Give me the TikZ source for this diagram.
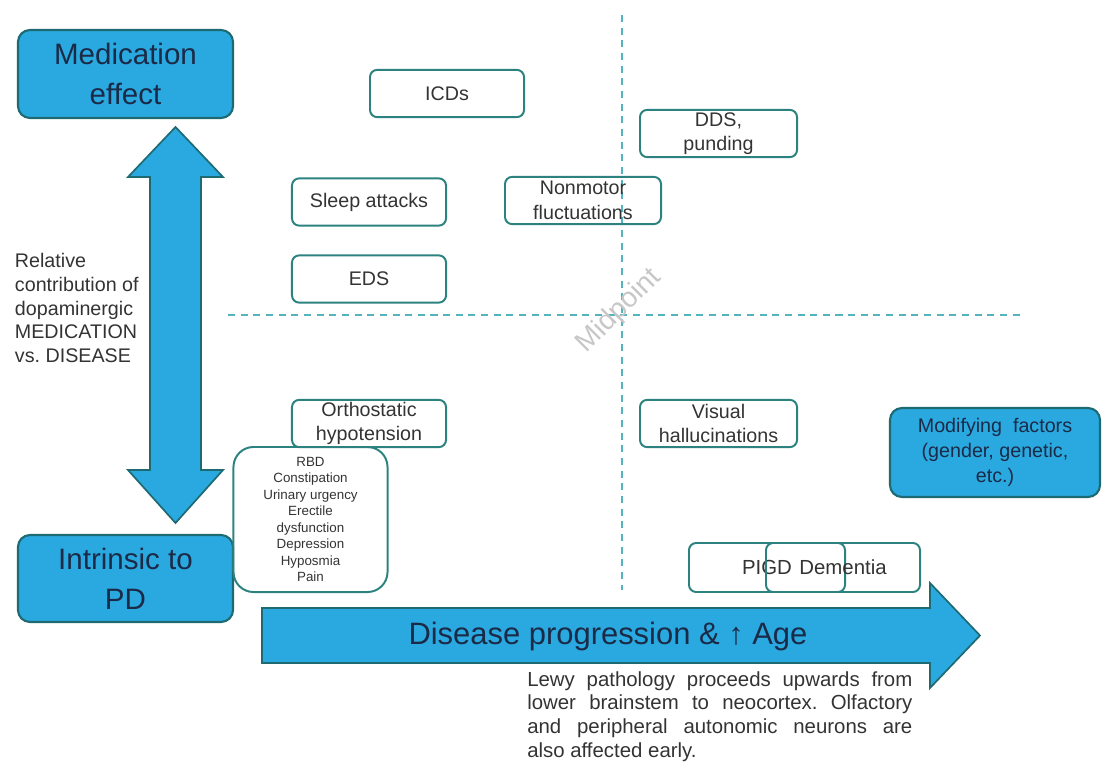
\documentclass[tikz,border=0pt]{standalone}
\usepackage{fontspec}
\setmainfont{Liberation Sans}
\usetikzlibrary{positioning}
\definecolor{pdblue}{HTML}{2AA9E0}
\definecolor{pdedge}{HTML}{1E6A72}
\definecolor{pdteal}{HTML}{2C827F}
\definecolor{pdnavy}{HTML}{1B2A47}
\definecolor{pdgrid}{HTML}{52B5BE}
\definecolor{pdtext}{HTML}{333333}
\frenchspacing
\tikzset{
  bigbox/.style={draw=pdedge, line width=1.5pt, fill=pdblue, rounded corners=0.3cm, text=pdnavy, align=center, inner sep=0pt},
  sympt/.style={draw=pdteal, line width=1.4pt, rounded corners=0.18cm, text=pdtext, align=center,
    minimum width=3.85cm, minimum height=1.18cm, inner sep=0pt, font=\fontsize{14}{17.5}\selectfont},
  blockarrow/.style={draw=pdedge, line width=1.2pt, fill=pdblue, line join=miter},
  midline/.style={draw=pdgrid, line width=0.9pt, dash pattern=on 5pt off 4pt}
}

\begin{document}
\begin{tikzpicture}[x=0.025cm, y=-0.025cm]
\useasboundingbox (0,0) rectangle (1104,763);
\draw[midline] (622,15) -- (622,590);
\draw[midline] (228,315) -- (1020,315);
\node[rotate=45, text=black!22, font=\fontsize{20}{20}\selectfont] (mid) at (619,311) {Midpoint};

\node[bigbox, minimum width=5.375cm, minimum height=2.2cm, font=\fontsize{21}{28.5}\selectfont] (med) at (125.5,74) {Medication\\effect};
\node[bigbox, minimum width=5.375cm, minimum height=2.175cm, font=\fontsize{21}{28.5}\selectfont] (pd) at (125.5,578.5) {Intrinsic to\\PD};
\node[bigbox, minimum width=5.25cm, minimum height=2.225cm, font=\fontsize{14}{17.7}\selectfont] (mod) at (995,452.5) {Modifying~~factors\\(gender, genetic,\\etc.)};

\draw[blockarrow] (175.5,127) -- (223,177) -- (201,177) -- (201,470) -- (223,470)
  -- (175.5,523) -- (128,470) -- (150,470) -- (150,177) -- (128,177) -- cycle;
\draw[blockarrow] (262,608) -- (930,608) -- (930,583) -- (980,635.5) -- (930,688)
  -- (930,663) -- (262,663) -- cycle;
\node[text=pdnavy, font=\fontsize{22}{22}\selectfont] (prog) at (608,636) {Disease progression \& ↑ Age};

\node[anchor=north west, align=left, text=pdtext, font=\fontsize{14}{17}\selectfont] (rel) at (10,248)
  {Relative\\contribution of\\dopaminergic\\MEDICATION\\vs. DISEASE};
\node[anchor=north west, text width=9.625cm, align=justify, inner sep=0pt, text=pdtext,
  font=\fontsize{14.5}{17}\selectfont] (lewy) at (527,671)
  {Lewy pathology proceeds upwards from\linebreak lower brainstem to neocortex. Olfactory\linebreak and peripheral autonomic neurons are\linebreak also affected early.};

\node[sympt] (icd) at (447,93.5) {ICDs};
\node[sympt] (sleep) at (369,202) {Sleep attacks};
\node[sympt, minimum width=3.9cm] (fluct) at (583,200.5) {Nonmotor\\fluctuations};
\node[sympt, minimum width=3.925cm] (dds) at (718.5,133.5) {DDS,\\punding};
\node[sympt] (eds) at (369,279) {EDS};
\node[sympt] (ortho) at (369,423.5) {Orthostatic\\hypotension};
\node[sympt, minimum width=3.925cm] (vis) at (718.5,423.5) {Visual\\hallucinations};
\node[sympt, minimum height=3.625cm, rounded corners=0.5cm, font=\fontsize{9.5}{11.7}\selectfont] (rbd) at (310.5,519.5)
  {RBD\\Constipation\\Urinary urgency\\Erectile\\dysfunction\\Depression\\Hyposmia\\Pain};
\node[sympt, minimum width=3.9cm, minimum height=1.225cm, font=\fontsize{14.5}{17}\selectfont] (pigd) at (767,567.5) {PIGD};
\node[sympt, minimum height=1.225cm, font=\fontsize{14.5}{17}\selectfont] (dem) at (843,567.5) {Dementia};
\end{tikzpicture}
\end{document}
